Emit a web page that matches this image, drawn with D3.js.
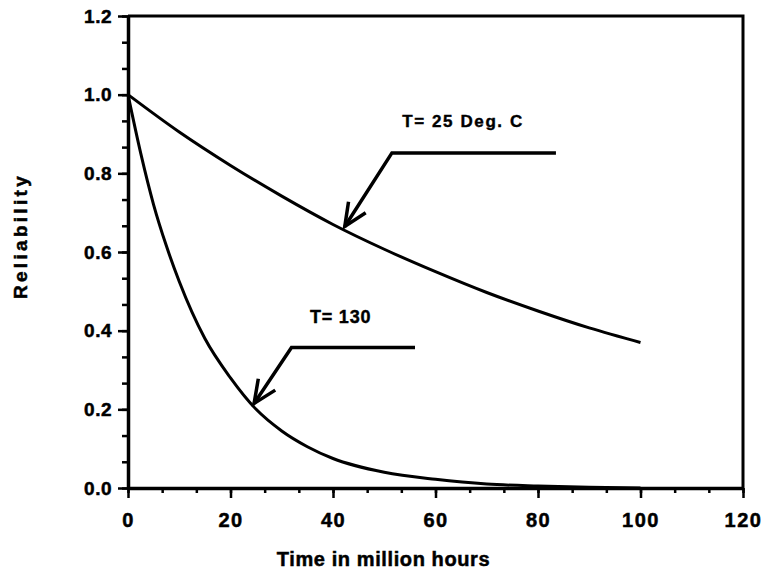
<!DOCTYPE html>
<html>
<head>
<meta charset="utf-8">
<script src="https://cdn.jsdelivr.net/npm/d3@7"></script>
<style>
  body { margin: 0; background: #fff; }
  text { font-family: "Liberation Sans", Arial, sans-serif; font-weight: bold; fill: #000; }
</style>
</head>
<body>
<div id="chart"></div>
<script>
// Data
var timeLow = [0, 10, 20, 30, 40, 50, 60, 70, 80, 90, 100];
var relLow = [1.0, 0.905, 0.82, 0.742, 0.67, 0.607, 0.55, 0.497, 0.45, 0.407, 0.37];

var timeHigh = [0, 2.5, 5, 7.5, 10, 15, 20, 25, 30, 35, 40, 50, 60, 70, 80, 90, 100];
var relHigh = [1.0, 0.85, 0.72, 0.615, 0.525, 0.38, 0.28, 0.2, 0.145, 0.105, 0.075, 0.04, 0.022, 0.01, 0.005, 0.002, 0.0];

var xTicks = [0, 20, 40, 60, 80, 100, 120];
var yTicks = [0.0, 0.2, 0.4, 0.6, 0.8, 1.0, 1.2];

var labelLow = "T= 25 Deg. C";
var labelHigh = "T= 130";

// Store width and height parameters
let svgWidth = 764;
let svgHeight = 573;

let margin = { top: 16, right: 21, bottom: 85, left: 128 };
let width = svgWidth - margin.left - margin.right;
let height = svgHeight - margin.top - margin.bottom;

let svg = d3.select("#chart")
    .append("svg")
    .attr("width", svgWidth)
    .attr("height", svgHeight);

let chartGroup = svg.append("g")
    .attr("transform", `translate(${margin.left}, ${margin.top})`);

let xScale = d3.scaleLinear().domain([0, 120]).range([0, width]);
let yScale = d3.scaleLinear().domain([0, 1.2]).range([height, 0]);

// minor ticks: two between each pair of major ticks
let xMinor = d3.range(0, 120.01, 20 / 3);
let yMinor = d3.range(0, 1.201, 0.2 / 3);

// Frame (top and right)
chartGroup.append("path")
    .attr("d", `M0,0H${width}V${height}`)
    .attr("fill", "none")
    .attr("stroke", "#000")
    .attr("stroke-width", 3);

// Minor ticks
chartGroup.append("g")
    .attr("transform", `translate(0, ${height})`)
    .call(d3.axisBottom(xScale).tickValues(xMinor).tickSize(5).tickFormat(""))
    .call(g => g.select(".domain").remove())
    .selectAll("line").attr("stroke-width", 2.5);

chartGroup.append("g")
    .call(d3.axisLeft(yScale).tickValues(yMinor).tickSize(6).tickFormat(""))
    .call(g => g.select(".domain").remove())
    .selectAll("line").attr("stroke-width", 2.5);

// Major axes
let xAxis = chartGroup.append("g")
    .attr("transform", `translate(0, ${height})`)
    .call(d3.axisBottom(xScale).tickValues(xTicks).tickSize(10).tickSizeOuter(0).tickPadding(15));

let yAxis = chartGroup.append("g")
    .call(d3.axisLeft(yScale).tickValues(yTicks).tickSize(10).tickSizeOuter(0).tickPadding(6)
        .tickFormat(d3.format(".1f")));

[xAxis, yAxis].forEach(function (ax) {
    ax.select(".domain").attr("stroke-width", 3.5);
    ax.selectAll(".tick line").attr("stroke-width", 2.5);
    ax.selectAll(".tick text")
        .style("font-family", "'Liberation Sans', Arial, sans-serif")
        .style("font-weight", "bold")
        .attr("fill", "#000")
        .attr("stroke", "#000")
        .attr("stroke-width", 0.5);
});
xAxis.selectAll(".tick text").style("font-size", "20px").style("letter-spacing", "1.5px");
yAxis.selectAll(".tick text").style("font-size", "19px").style("letter-spacing", "0.5px");

// Curves
let line = d3.line()
    .x(d => xScale(d[0]))
    .y(d => yScale(d[1]))
    .curve(d3.curveMonotoneX);

chartGroup.append("path")
    .datum(d3.zip(timeLow, relLow))
    .attr("d", line)
    .attr("fill", "none")
    .attr("stroke", "#000")
    .attr("stroke-width", 3);

chartGroup.append("path")
    .datum(d3.zip(timeHigh, relHigh))
    .attr("d", line)
    .attr("fill", "none")
    .attr("stroke", "#000")
    .attr("stroke-width", 3);

// Annotations: arrow tip on the curve, elbow and end of the leader line
function annotate(tipT, tipR, elbowT, elbowR, endT, label, labelT, labelR, size, spacing) {
    let tx = xScale(tipT), ty = yScale(tipR);
    let ex = xScale(elbowT), ey = yScale(elbowR);
    chartGroup.append("path")
        .attr("d", `M${xScale(endT)},${ey}H${ex}L${tx},${ty}`)
        .attr("fill", "none")
        .attr("stroke", "#000")
        .attr("stroke-width", 3.5);
    // open arrowhead
    let ang = Math.atan2(ey - ty, ex - tx);
    let len = 25, spread = 0.42;
    let a1 = [tx + len * Math.cos(ang - spread), ty + len * Math.sin(ang - spread)];
    let a2 = [tx + len * Math.cos(ang + spread), ty + len * Math.sin(ang + spread)];
    chartGroup.append("path")
        .attr("d", `M${a1[0]},${a1[1]}L${tx},${ty}L${a2[0]},${a2[1]}`)
        .attr("fill", "none")
        .attr("stroke", "#000")
        .attr("stroke-width", 3.5);
    chartGroup.append("text")
        .attr("x", xScale(labelT))
        .attr("y", yScale(labelR))
        .attr("stroke", "#000")
        .attr("stroke-width", 0.4)
        .style("font-size", size + "px")
        .style("letter-spacing", spacing + "px")
        .text(label);
}

annotate(42.3, 0.665, 51.5, 0.852, 83.5, labelLow, 53.5, 0.918, 17, 1.6);
annotate(24.6, 0.215, 31.9, 0.357, 56, labelHigh, 35.5, 0.42, 18, 0.8);

// Axis labels
chartGroup.append("text")
    .attr("transform", "rotate(-90)")
    .attr("x", -220)
    .attr("y", 0 - margin.left + 27)
    .attr("stroke", "#000")
    .attr("stroke-width", 0.5)
    .style("text-anchor", "middle")
    .style("font-size", "19px")
    .style("letter-spacing", "3.3px")
    .text("Reliability");

chartGroup.append("text")
    .attr("x", 255.5)
    .attr("y", height + 78)
    .attr("stroke", "#000")
    .attr("stroke-width", 0.5)
    .style("text-anchor", "middle")
    .style("font-size", "20px")
    .style("letter-spacing", "0.6px")
    .text("Time in million hours");
</script>
</body>
</html>
